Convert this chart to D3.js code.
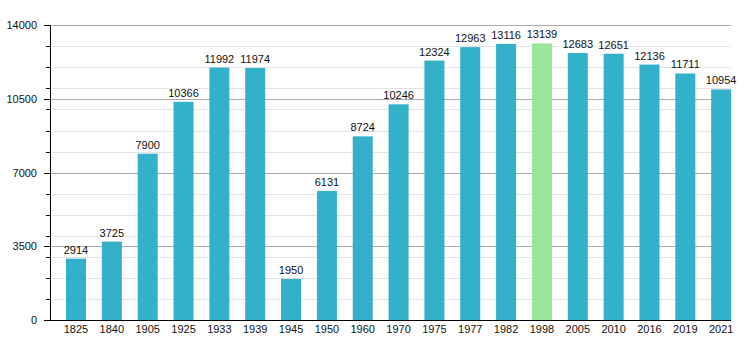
<!DOCTYPE html>
<html><head><meta charset="utf-8">
<script src="https://cdn.jsdelivr.net/npm/d3@7"></script>
<style>body{margin:0;background:#fff}svg{display:block;font-family:"Liberation Sans",Arial,sans-serif}</style>
</head><body><svg id="c" width="750" height="350"></svg>
<script>
const years = ["1825","1840","1905","1925","1933","1939","1945","1950","1960","1970","1975","1977","1982","1998","2005","2010","2016","2019","2021"];
const population = [2914,3725,7900,10366,11992,11974,1950,6131,8724,10246,12324,12963,13116,13139,12683,12651,12136,11711,10954];
const highlightYear = "1998";
const majorTicks = [0,3500,7000,10500,14000];
const minorTicks = [1000,2000,3000,4000,5000,6000,7000,8000,9000,10000,11000,12000,13000,14000];

(function(){
const svg = d3.select("#c");
const mL = 50, mR = 731, mT = 25.3, mB = 320;
const y = d3.scaleLinear().domain([0,14000]).range([mB, mT]);
const step = (mR - mL) / years.length;
const x = d3.scaleBand().domain(years).range([mL + 16, mL + 16 + step * years.length]).paddingInner(0).paddingOuter(0);
const bw = 20;

svg.append("g").selectAll("line").data(minorTicks).join("line")
  .attr("x1", mL).attr("x2", mR)
  .attr("y1", d => Math.round(y(d)) + 0.5).attr("y2", d => Math.round(y(d)) + 0.5)
  .attr("stroke", "#e4e4e4").attr("stroke-width", 1);
svg.append("g").selectAll("line").data(majorTicks.filter(d => d > 0)).join("line")
  .attr("x1", mL).attr("x2", mR)
  .attr("y1", d => Math.round(y(d)) + 0.5).attr("y2", d => Math.round(y(d)) + 0.5)
  .attr("stroke", "#ababab").attr("stroke-width", 1);

svg.append("g").selectAll("rect").data(years).join("rect")
  .attr("x", d => x(d)).attr("width", bw)
  .attr("y", (d, i) => y(population[i]))
  .attr("height", (d, i) => mB - y(population[i]))
  .attr("fill", d => d === highlightYear ? "#99e699" : "#33b0ca");

svg.append("g").selectAll("text").data(years).join("text")
  .attr("x", d => x(d) + bw / 2)
  .attr("y", (d, i) => y(population[i]) - 5)
  .attr("text-anchor", "middle").attr("font-size", 11).attr("fill", "#111")
  .text((d, i) => population[i]);

const yAxis = svg.append("g");
yAxis.append("line").attr("x1", mL + 0.5).attr("x2", mL + 0.5).attr("y1", mT).attr("y2", mB).attr("stroke", "#000");
yAxis.selectAll("line.t").data(minorTicks.concat([0])).join("line").attr("class","t")
  .attr("x1", mL - 4).attr("x2", mL)
  .attr("y1", d => Math.round(y(d)) + 0.5).attr("y2", d => Math.round(y(d)) + 0.5)
  .attr("stroke", "#000");
yAxis.selectAll("line.m").data(majorTicks).join("line").attr("class","m")
  .attr("x1", mL - 6).attr("x2", mL)
  .attr("y1", d => Math.round(y(d)) + 0.5).attr("y2", d => Math.round(y(d)) + 0.5)
  .attr("stroke", "#000");
yAxis.selectAll("text").data(majorTicks).join("text")
  .attr("x", mL - 13).attr("y", d => y(d) + 4)
  .attr("text-anchor", "end").attr("font-size", 11).attr("fill", "#111")
  .text(d => d);

const xAxis = svg.append("g");
xAxis.append("line").attr("x1", mL).attr("x2", mR).attr("y1", mB + 0.5).attr("y2", mB + 0.5).attr("stroke", "#000");
xAxis.selectAll("text").data(years).join("text")
  .attr("x", d => x(d) + bw / 2).attr("y", mB + 12.5)
  .attr("text-anchor", "middle").attr("font-size", 11).attr("fill", "#111")
  .text(d => d);
})();
</script></body></html>
